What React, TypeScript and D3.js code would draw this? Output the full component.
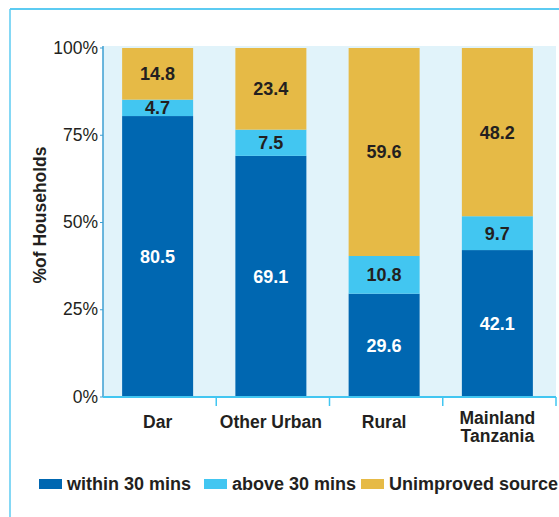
import React from "react";
import * as d3 from "d3";

const categories = ["Dar", "Other Urban", "Rural", "Mainland Tanzania"];
const categoryLines = [["Dar"], ["Other Urban"], ["Rural"], ["Mainland", "Tanzania"]];
const within30 = [80.5, 69.1, 29.6, 42.1];
const above30 = [4.7, 7.5, 10.8, 9.7];
const unimproved = [14.8, 23.4, 59.6, 48.2];
const seriesNames = ["within 30 mins", "above 30 mins", "Unimproved source"];
const yTicks = [0, 25, 50, 75, 100];

const W = 559;
const H = 517;
const colors = ["#0067b1", "#42c6f1", "#e6ba46"];
const labelColors = ["#ffffff", "#231f20", "#231f20"];
const font = "'Liberation Sans', Arial, Helvetica, sans-serif";

export default function App() {
  const left = 103, right = 556, top = 48, bottom = 397;
  const x = d3.scaleBand<string>().domain(categories).range([left, right]).paddingInner(0).paddingOuter(0);
  const y = d3.scaleLinear().domain([0, 100]).range([bottom, top]);
  const barW = 71;

  const rows = categories.map((c, i) => ({ cat: c, vals: [within30[i], above30[i], unimproved[i]] }));
  const stack = d3.stack<any>().keys(["0", "1", "2"]).value((d, k) => d.vals[+k]);
  const stacked = stack(rows as any);

  return (
    <svg width={W} height={H} style={{ position: "absolute", left: 0, top: 0, background: "#fff" }} fontFamily={font}>
      {/* frame */}
      <line x1={10} y1={9} x2={W} y2={9} stroke="#5ccbf2" strokeWidth={2} />
      <line x1={10} y1={9} x2={10} y2={H} stroke="#5ccbf2" strokeWidth={1.5} />
      {/* plot background */}
      <rect x={left} y={top - 2} width={right - left} height={bottom - top + 2} fill="#e1f3fa" />
      {/* bars */}
      {stacked.map((s, si) =>
        s.map((d, i) => {
          const cx = (x(categories[i]) as number) + x.bandwidth() / 2 - 2;
          const y0 = y(d[0]);
          const y1 = y(d[1]);
          return (
            <g key={`${si}-${i}`}>
              <rect x={cx - barW / 2} y={y1} width={barW} height={y0 - y1} fill={colors[si]} />
              <text
                x={cx}
                y={(y0 + y1) / 2}
                dy="0.36em"
                textAnchor="middle"
                fontWeight="bold"
                fontSize={18}
                fill={labelColors[si]}
              >
                {rows[i].vals[si]}
              </text>
            </g>
          );
        })
      )}
      {/* y axis */}
      <line x1={left} y1={top - 2} x2={left} y2={bottom} stroke="#3d9fd2" strokeWidth={1.5} />
      {yTicks.map((t) => (
        <g key={t}>
          <line x1={left - 3} x2={left} y1={y(t)} y2={y(t)} stroke="#3d9fd2" strokeWidth={1} />
          <text x={98} y={y(t)} dy="0.32em" textAnchor="end" fontSize={17.5} fill="#231f20">
            {t}%
          </text>
        </g>
      ))}
      <text
        transform={`translate(46,215) rotate(-90)`}
        textAnchor="middle"
        fontWeight="bold"
        fontSize={17.5}
        fill="#231f20"
      >
        %of Households
      </text>
      {/* x axis */}
      <line x1={left} y1={bottom} x2={right} y2={bottom} stroke="#42c6f1" strokeWidth={2} />
      {categories.map((c, i) => {
        const x0 = x(c) as number;
        const cx = x0 + x.bandwidth() / 2 - 2;
        const lines = categoryLines[i];
        return (
          <g key={c}>
            <line x1={x0 + x.bandwidth()} x2={x0 + x.bandwidth()} y1={bottom} y2={bottom + 9} stroke="#42c6f1" strokeWidth={1.5} />
            {lines.map((ln, li) => (
              <text
                key={ln}
                x={cx}
                y={lines.length === 1 ? 428 : 424 + li * 17.5}
                textAnchor="middle"
                fontWeight="bold"
                fontSize={17.5}
                fill="#231f20"
              >
                {ln}
              </text>
            ))}
          </g>
        );
      })}
      {/* legend */}
      {seriesNames.map((n, i) => {
        const lx = [39, 204, 361][i];
        return (
          <g key={n}>
            <rect x={lx} y={479} width={23} height={10} fill={colors[i]} />
            <text x={lx + 28} y={490} fontWeight="bold" fontSize={18} fill="#231f20">
              {n}
            </text>
          </g>
        );
      })}
    </svg>
  );
}
